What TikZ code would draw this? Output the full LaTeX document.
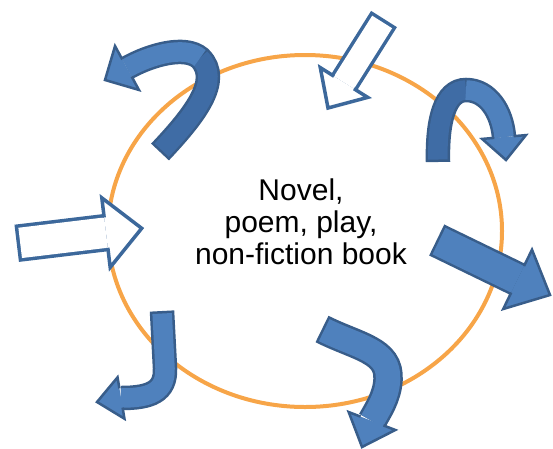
\documentclass[tikz,border=0pt]{standalone}
\usepackage{fontspec}
\setmainfont{Liberation Sans}
\usetikzlibrary{calc}

\definecolor{ringorange}{RGB}{247,165,72}
\definecolor{arrowblue}{RGB}{79,129,189}
\definecolor{ribbondark}{RGB}{63,108,165}
\definecolor{arrowedge}{RGB}{56,93,138}
\definecolor{hollowedge}{RGB}{60,104,155}

\tikzstyle{ring}=[ringorange, line width=4]
\tikzstyle{booktext}=[font=\fontsize{30}{32}\selectfont, align=center, inner sep=0]
\tikzstyle{hollowhead}=[fill=white, draw=hollowedge, line width=3.5]
\tikzstyle{solidhead}=[fill=arrowblue, draw=arrowedge, line width=2.5]

% head of a block arrow: style, base, tip, half shaft (less half the edge), half head
\newcommand{\blockhead}[5]{\filldraw[#1] ($(#2)!#4!90:(#3)$) -- ($(#2)!#5!90:(#3)$) -- (#3) -- ($(#2)!#5!-90:(#3)$) -- ($(#2)!#4!-90:(#3)$);}

\begin{document}
\begin{tikzpicture}[x=1pt, y=-1pt, line join=miter]
\useasboundingbox (0,0) rectangle (553,448);
% Ring
    \draw[ring] (305,231) ellipse [x radius=197, y radius=176];
% Title
    \node[booktext] (title) at (301,222) {Novel,\\poem, play,\\non-fiction book};
% Points of the straight arrows
    \coordinate (inTopTail) at (384,19);
    \coordinate (inTopBase) at (344,82.5);
    \coordinate (inTopTip) at (328,108);
    \coordinate (inLeftTail) at (16.7,243.3);
    \coordinate (inLeftBase) at (106,232.6);
    \coordinate (inLeftTip) at (141.7,228.3);
    \coordinate (outRightTail) at (436.7,240);
    \coordinate (outRightBase) at (517.6,279.3);
    \coordinate (outRightTip) at (550,295);
% Points of the curved arrows
    \coordinate (curlTail) at (160,152);
    \coordinate (curlTurn) at (200,58);
    \coordinate (curlBase) at (127,68);
    \coordinate (curlTip) at (105,80);
    \coordinate (hookTail) at (438,162);
    \coordinate (hookTop) at (466,90);
    \coordinate (hookBase) at (504,137);
    \coordinate (hookTip) at (506,160);
    \coordinate (jTail) at (162,311);
    \coordinate (jBend) at (165,368);
    \coordinate (jBase) at (121,398);
    \coordinate (jTip) at (97,402);
    \coordinate (bendTail) at (322,329);
    \coordinate (bendMid) at (388,380);
    \coordinate (bendBase) at (372,421);
    \coordinate (bendTip) at (362,447);
% Hollow arrows pointing in
    \draw[hollowedge, line width=30.5, shorten >=-1] (inTopTail) -- (inTopBase);
    \draw[white, line width=23.5, shorten <=3.5] (inTopTail) -- (inTopBase);
    \blockhead{hollowhead}{inTopBase}{inTopTip}{11.75pt}{28pt}
    \draw[hollowedge, line width=37.5, shorten >=-1] (inLeftTail) -- (inLeftBase);
    \draw[white, line width=30.5, shorten <=3.5] (inLeftTail) -- (inLeftBase);
    \blockhead{hollowhead}{inLeftBase}{inLeftTip}{15.25pt}{35pt}
% Solid arrows pointing out
    \draw[arrowedge, line width=34.5, shorten >=-1] (outRightTail) -- (outRightBase);
    \draw[arrowblue, line width=29.5, shorten <=2.5] (outRightTail) -- (outRightBase);
    \blockhead{solidhead}{outRightBase}{outRightTip}{14.75pt}{33pt}
    \draw[arrowedge, line width=24.5] (curlTail) .. controls (195,115) and (222,80) .. (curlTurn) .. controls (185,45) and (150,55) .. (curlBase);
    \draw[ribbondark, line width=19.5, shorten <=2.5] (curlTail) .. controls (195,115) and (222,80) .. (curlTurn);
    \draw[arrowblue, line width=19.5] (curlTurn) .. controls (185,45) and (150,55) .. (curlBase);
    \blockhead{solidhead}{curlBase}{curlTip}{9.75pt}{25pt}
    \draw[arrowedge, line width=24.5] (hookTail) .. controls (437,120) and (445,90) .. (hookTop) .. controls (488,90) and (502,112) .. (hookBase);
    \draw[ribbondark, line width=19.5, shorten <=2.5] (hookTail) .. controls (437,120) and (445,90) .. (hookTop);
    \draw[arrowblue, line width=19.5] (hookTop) .. controls (488,90) and (502,112) .. (hookBase);
    \blockhead{solidhead}{hookBase}{hookTip}{9.75pt}{22pt}
    \draw[arrowedge, line width=24.5] (jTail) -- (jBend) .. controls (166,392) and (150,398) .. (jBase);
    \draw[arrowblue, line width=19.5, shorten <=2.5] (jTail) -- (jBend) .. controls (166,392) and (150,398) .. (jBase);
    \blockhead{solidhead}{jBase}{jTip}{9.75pt}{21pt}
    \draw[arrowedge, line width=29.5] (bendTail) .. controls (358,347) and (390,350) .. (bendMid) .. controls (387,397) and (378,410) .. (bendBase);
    \draw[arrowblue, line width=24.5, shorten <=2.5] (bendTail) .. controls (358,347) and (390,350) .. (bendMid) .. controls (387,397) and (378,410) .. (bendBase);
    \blockhead{solidhead}{bendBase}{bendTip}{12.25pt}{25pt}
\end{tikzpicture}
\end{document}
